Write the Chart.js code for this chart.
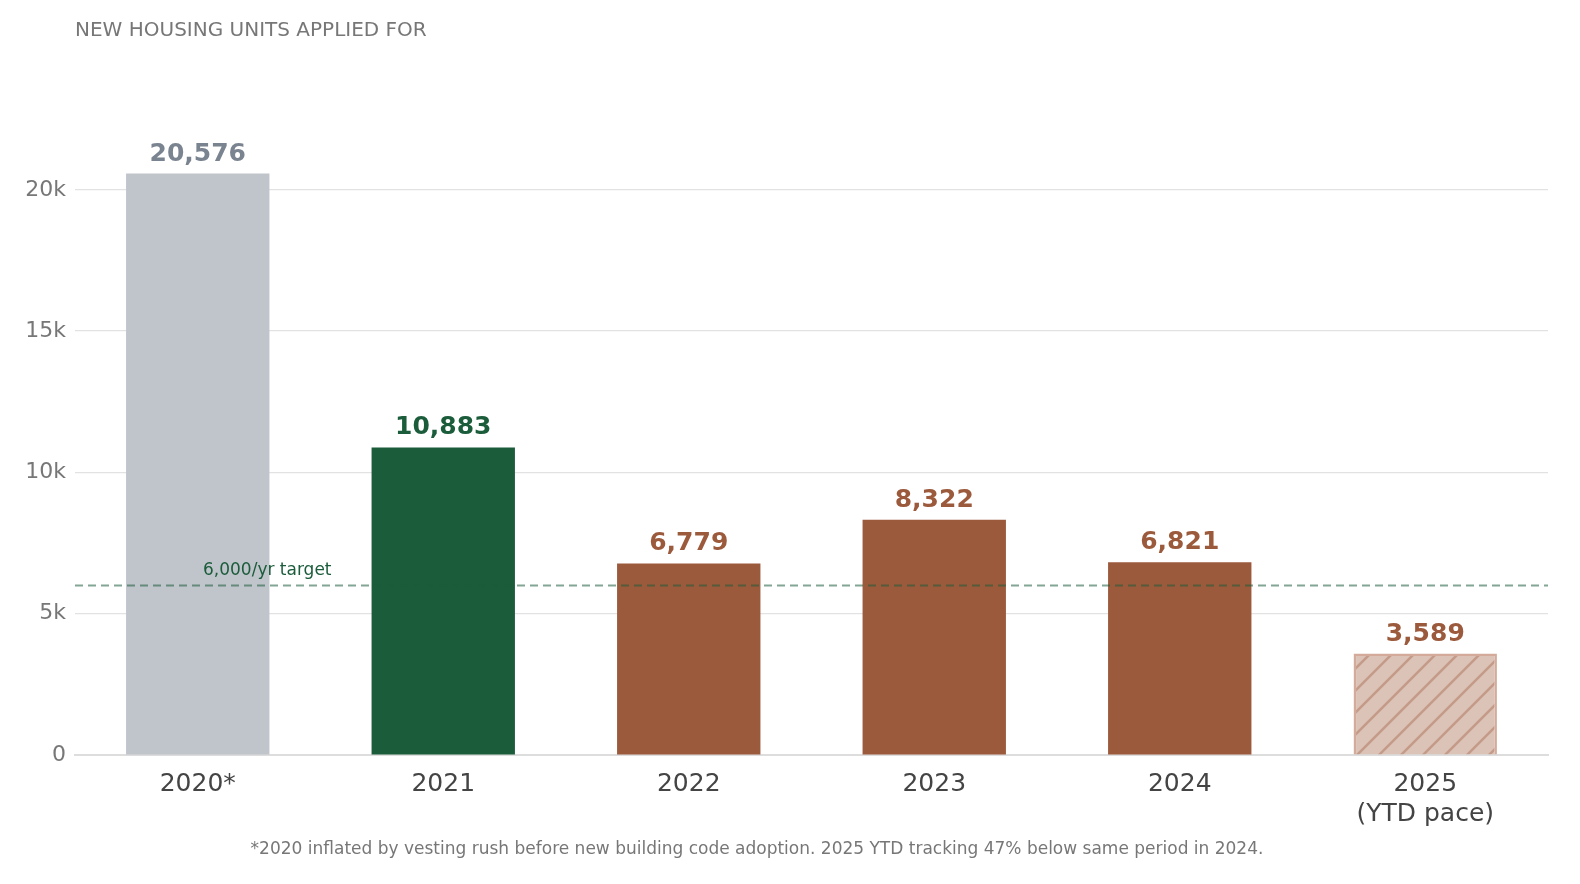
<!DOCTYPE html>
<html>
<head>
<meta charset="utf-8">
<script src="https://cdn.jsdelivr.net/npm/chart.js@4"></script>
<style>
  html, body { margin: 0; padding: 0; background: #fff; }
  #wrap { width: 1580px; height: 884px; }
</style>
</head>
<body>
<div id="wrap"><canvas id="chart" width="1580" height="884"></canvas></div>
<script>
// Daten
const years = ['2020*', '2021', '2022', '2023', '2024', ['2025', '(YTD pace)']];
const units = [20576, 10883, 6779, 8322, 6821, 3589];
const yTicks = [0, 5000, 10000, 15000, 20000];
const targetValue = 6000;

const FONT = "'DejaVu Sans', sans-serif";
const gray = '#c0c4cb', green = '#1b5c3b', rust = '#9c5a3c';
const labelColors = ['#7a8490', '#1b5c3b', rust, rust, rust, rust];

// Schraffur für 2025
function hatchPattern() {
    const c = document.createElement('canvas');
    c.width = 22; c.height = 22;
    const g = c.getContext('2d');
    g.fillStyle = '#dcc3b8';
    g.fillRect(0, 0, 22, 22);
    g.strokeStyle = '#c49a88';
    g.lineWidth = 2.5;
    g.beginPath();
    g.moveTo(-2, 24); g.lineTo(24, -2);
    g.moveTo(-13, 13); g.lineTo(13, -13);
    g.moveTo(9, 35); g.lineTo(35, 9);
    g.stroke();
    return g.createPattern(c, 'repeat');
}

const ctx = document.getElementById('chart').getContext('2d');

const extras = {
    id: 'extras',
    afterDatasetsDraw(chart) {
        const c = chart.ctx, area = chart.chartArea;
        const y = chart.scales.y, x = chart.scales.x;
        c.save();
        // Ziellinie
        const ty = y.getPixelForValue(targetValue);
        c.strokeStyle = 'rgba(27,92,59,0.55)';
        c.lineWidth = 2;
        c.setLineDash([8, 5]);
        c.beginPath(); c.moveTo(area.left, ty); c.lineTo(area.right, ty); c.stroke();
        c.setLineDash([]);
        c.fillStyle = '#1b5c3b';
        c.font = '17px ' + FONT;
        c.textAlign = 'left'; c.textBaseline = 'alphabetic';
        c.fillText('6,000/yr target', 203, 575);
        // Werte
        c.font = 'bold 25px ' + FONT;
        c.textAlign = 'center';
        chart.getDatasetMeta(0).data.forEach((bar, i) => {
            c.fillStyle = labelColors[i];
            c.fillText(units[i].toLocaleString('en-US'), bar.x, bar.y - 13);
        });
        // Titel + Fußnote
        c.textAlign = 'left';
        c.fillStyle = '#777';
        c.font = '20px ' + FONT;
        c.fillText('NEW HOUSING UNITS APPLIED FOR', 75, 36);
        c.textAlign = 'center';
        c.font = '17px ' + FONT;
        c.fillText('*2020 inflated by vesting rush before new building code adoption. 2025 YTD tracking 47% below same period in 2024.', 757, 854);
        c.restore();
    }
};

new Chart(ctx, {
    type: 'bar',
    data: {
        labels: years,
        datasets: [{
            data: units,
            backgroundColor: [gray, green, rust, rust, rust, hatchPattern()],
            borderColor: ['rgba(0,0,0,0)', 'rgba(0,0,0,0)', 'rgba(0,0,0,0)', 'rgba(0,0,0,0)', 'rgba(0,0,0,0)', '#d4ab9b'],
            borderWidth: [0, 0, 0, 0, 0, 2.5],
            categoryPercentage: 1,
            barPercentage: 0.584
        }]
    },
    options: {
        responsive: false,
        animation: false,
        layout: { padding: { top: 105, right: 32, left: 0, bottom: 0 } },
        plugins: { legend: { display: false }, tooltip: { enabled: false } },
        scales: {
            x: {
                grid: { display: false },
                border: { color: '#ddd', width: 2 },
                ticks: { color: '#444', font: { size: 25, family: FONT }, padding: 6 },
                afterFit(s) { s.height = 129; }
            },
            y: {
                min: 0, max: 23000,
                afterBuildTicks(s) { s.ticks = yTicks.map(v => ({ value: v })); },
                grid: { color: '#e2e2e2', lineWidth: 1.2, drawTicks: false },
                border: { display: false },
                ticks: {
                    color: '#777', font: { size: 22, family: FONT }, padding: 9,
                    callback: v => v === 0 ? '0' : (v / 1000) + 'k'
                },
                afterFit(s) { s.width = 75; }
            }
        }
    },
    plugins: [extras]
});
</script>
</body>
</html>
